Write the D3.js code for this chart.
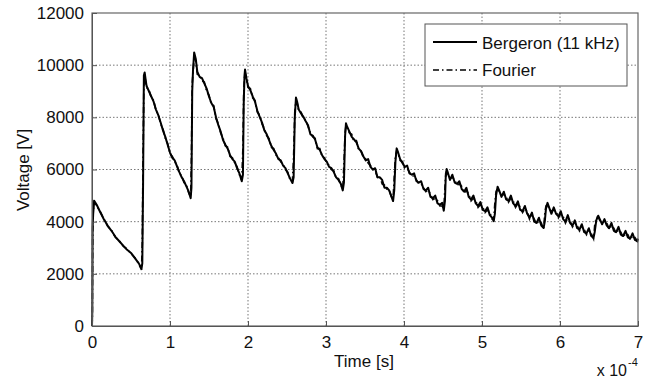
<!DOCTYPE html>
<html lang="en">
<head>
<meta charset="utf-8">
<title>Voltage vs time</title>
<script src="https://cdnjs.cloudflare.com/ajax/libs/d3/7.8.5/d3.min.js"></script>
<style>
  body { margin: 0; background: #fff; }
  svg text { font-family: "Liberation Sans", Arial, sans-serif; fill: #111; }
</style>
</head>
<body>
<script>
// time in units of 1e-4 s
var time = [
  0, 0.004, 0.008, 0.015, 0.028, 0.06, 0.10, 0.15, 0.20, 0.25, 0.30, 0.35, 0.40, 0.45, 0.50, 0.55, 0.60, 0.635, 0.645, 0.655, 0.665, 0.675, 0.69,
  0.70, 0.73, 0.76, 0.79, 0.82, 0.85, 0.88, 0.91, 0.94, 0.97, 1.00, 1.03, 1.06, 1.09, 1.12, 1.15, 1.18, 1.21, 1.24, 1.265, 1.275, 1.285, 1.295, 1.31, 1.33,
  1.35, 1.38, 1.41, 1.44, 1.47, 1.50, 1.53, 1.56, 1.59, 1.62, 1.65, 1.68, 1.71, 1.74, 1.77, 1.80, 1.83, 1.86, 1.89, 1.92, 1.935, 1.945, 1.955, 1.962, 1.98,
  2.00, 2.03, 2.06, 2.09, 2.12, 2.15, 2.18, 2.21, 2.24, 2.27, 2.30, 2.33, 2.36, 2.39, 2.42, 2.45, 2.48, 2.51, 2.54, 2.57, 2.585, 2.60, 2.615, 2.63,
  2.65, 2.68, 2.71, 2.74, 2.77, 2.80, 2.83, 2.86, 2.89, 2.92, 2.95, 2.98, 3.01, 3.04, 3.07, 3.10, 3.13, 3.16, 3.19, 3.215, 3.23, 3.245, 3.256, 3.27,
  3.30, 3.33, 3.36, 3.39, 3.42, 3.45, 3.48, 3.51, 3.54, 3.57, 3.60, 3.63, 3.66, 3.69, 3.72, 3.75, 3.78, 3.81, 3.84, 3.86, 3.875, 3.89, 3.906, 3.92,
  3.95, 3.98, 4.01, 4.04, 4.07, 4.10, 4.13, 4.16, 4.19, 4.22, 4.25, 4.28, 4.31, 4.34, 4.37, 4.40, 4.43, 4.46, 4.49, 4.51, 4.525, 4.535, 4.547, 4.56,
  4.59, 4.62, 4.65, 4.68, 4.71, 4.74, 4.77, 4.80, 4.83, 4.86, 4.89, 4.92, 4.95, 4.98, 5.01, 5.04, 5.07, 5.10, 5.13, 5.15, 5.165, 5.18, 5.20, 5.22,
  5.25, 5.28, 5.31, 5.34, 5.37, 5.40, 5.43, 5.46, 5.49, 5.52, 5.55, 5.58, 5.61, 5.64, 5.67, 5.70, 5.73, 5.76, 5.79, 5.805, 5.82, 5.84, 5.86,
  5.89, 5.92, 5.95, 5.98, 6.01, 6.04, 6.07, 6.10, 6.13, 6.16, 6.19, 6.22, 6.25, 6.28, 6.31, 6.34, 6.37, 6.40, 6.43, 6.445, 6.465, 6.49, 6.51,
  6.54, 6.57, 6.60, 6.63, 6.66, 6.69, 6.72, 6.75, 6.78, 6.81, 6.84, 6.87, 6.90, 6.93, 6.96, 6.99, 7.00
];

var bergeron = [
  0, 600, 3800, 4300, 4800, 4650, 4400, 4100, 3850, 3650, 3420, 3250, 3080, 2920, 2800, 2600, 2400, 2200, 2400, 5500, 9600, 9720, 9400,
  9200, 9000, 8800, 8600, 8300, 8080, 7800, 7500, 7250, 6950, 6650, 6450, 6350, 6120, 5900, 5700, 5550, 5350, 5150, 4900, 5300, 9000, 9800, 10490, 10250,
  9750, 9550, 9500, 9300, 9100, 8800, 8550, 8400, 8000, 7700, 7450, 7130, 6950, 6800, 6550, 6400, 6300, 6050, 5850, 5550, 5800, 8500, 9600, 9830, 9500,
  9200, 9040, 8800, 8600, 8250, 8020, 7800, 7500, 7350, 7130, 6900, 6750, 6600, 6400, 6350, 6150, 6050, 5850, 5650, 5480, 5700, 8000, 8760, 8600,
  8300, 8150, 8020, 7850, 7700, 7350, 7300, 7150, 6850, 6750, 6550, 6400, 6300, 6100, 6050, 5900, 5700, 5600, 5450, 5200, 5500, 7300, 7770, 7650,
  7450, 7250, 7150, 7050, 6800, 6700, 6500, 6350, 6400, 6100, 6000, 6050, 5700, 5700, 5600, 5300, 5300, 5200, 4950, 4790, 5200, 6300, 6810, 6700,
  6400, 6250, 6100, 6150, 5850, 5800, 5850, 5550, 5500, 5550, 5250, 5200, 5300, 4950, 4900, 5000, 4700, 4650, 4720, 4420, 4800, 5700, 6015, 5900,
  5600, 5800, 5500, 5450, 5550, 5250, 5150, 5300, 4950, 4850, 5000, 4700, 4600, 4750, 4450, 4400, 4550, 4250, 4150, 4020, 4300, 5000, 5340, 5200,
  4950, 5150, 4850, 4800, 5000, 4700, 4600, 4780, 4450, 4400, 4600, 4300, 4150, 4350, 4000, 3950, 4150, 3850, 3760, 4000, 4500, 4720, 4550,
  4300, 4550, 4300, 4200, 4400, 4100, 4000, 4250, 3950, 3850, 4050, 3750, 3700, 3900, 3600, 3550, 3750, 3450, 3380, 3600, 4050, 4230, 4100,
  3900, 4100, 3850, 3750, 3950, 3650, 3600, 3800, 3500, 3450, 3650, 3400, 3350, 3550, 3300, 3250, 3350
];

var fourier = [
  0, 300, 3500, 4400, 4750, 4600, 4420, 4120, 3830, 3670, 3400, 3270, 3060, 2950, 2780, 2620, 2380, 2150, 3200, 6500, 9200, 9600, 9300,
  9150, 9050, 8750, 8650, 8250, 8120, 7750, 7550, 7200, 7000, 6600, 6500, 6300, 6170, 5850, 5750, 5500, 5400, 5100, 4950, 6500, 9300, 9700, 10350, 10150,
  9650, 9600, 9400, 9350, 9000, 8850, 8500, 8450, 7950, 7750, 7400, 7200, 6900, 6850, 6500, 6450, 6250, 6100, 5800, 5600, 6800, 8900, 9500, 9700, 9450,
  9150, 9100, 8750, 8650, 8200, 8080, 7750, 7550, 7300, 7180, 6850, 6800, 6550, 6450, 6300, 6200, 6000, 5900, 5600, 5550, 6500, 8200, 8650, 8550,
  8250, 8200, 7950, 7900, 7650, 7400, 7250, 7200, 6800, 6800, 6500, 6450, 6250, 6150, 6000, 5950, 5650, 5650, 5400, 5280, 6200, 7400, 7680, 7600,
  7400, 7350, 7050, 7100, 6750, 6700, 6450, 6400, 6250, 6150, 6000, 5950, 5700, 5750, 5450, 5400, 5250, 5200, 4950, 4850, 5700, 6500, 6720, 6650,
  6350, 6300, 6050, 6050, 5900, 5750, 5750, 5600, 5450, 5450, 5300, 5150, 5200, 5050, 4850, 4900, 4800, 4600, 4600, 4480, 5300, 5850, 5950, 5850,
  5650, 5700, 5600, 5400, 5450, 5350, 5100, 5200, 5050, 4800, 4900, 4800, 4550, 4650, 4550, 4350, 4450, 4350, 4100, 4080, 4700, 5150, 5280, 5150,
  5000, 5050, 4950, 4750, 4900, 4800, 4550, 4700, 4550, 4350, 4500, 4400, 4100, 4250, 4100, 3900, 4050, 3950, 3720, 4300, 4600, 4680, 4500,
  4400, 4450, 4400, 4150, 4300, 4200, 3950, 4150, 4050, 3800, 3950, 3850, 3650, 3800, 3700, 3500, 3650, 3550, 3350, 3850, 4150, 4180, 4050,
  4000, 4000, 3950, 3700, 3850, 3750, 3550, 3700, 3600, 3400, 3550, 3500, 3300, 3450, 3400, 3250, 3300
];

var xTicks = [0, 1, 2, 3, 4, 5, 6, 7];
var yTicks = [0, 2000, 4000, 6000, 8000, 10000, 12000];
var seriesNames = ["Bergeron (11 kHz)", "Fourier"];

var W = 653, H = 381;
var plotL = 92, plotR = 638, plotT = 13, plotB = 326;

var svg = d3.select("body").append("svg")
    .attr("width", W)
    .attr("height", H);

var x = d3.scaleLinear().domain([0, 7]).range([plotL, plotR]);
var y = d3.scaleLinear().domain([0, 12000]).range([plotB, plotT]);

// grid
svg.append("g")
    .selectAll("line")
    .data(xTicks.slice(1, -1))
    .enter().append("line")
    .attr("x1", d => x(d)).attr("x2", d => x(d))
    .attr("y1", plotT).attr("y2", plotB)
    .attr("stroke", "#777").attr("stroke-width", 1)
    .attr("stroke-dasharray", "1.5,2");

svg.append("g")
    .selectAll("line")
    .data(yTicks.slice(1, -1))
    .enter().append("line")
    .attr("x1", plotL).attr("x2", plotR)
    .attr("y1", d => y(d)).attr("y2", d => y(d))
    .attr("stroke", "#777").attr("stroke-width", 1)
    .attr("stroke-dasharray", "1.5,2");

// data
var rowsB = d3.zip(time, bergeron);
var rowsF = d3.zip(time, fourier);
var line = d3.line().x(d => x(d[0])).y(d => y(d[1]));

svg.append("path")
    .attr("d", line(rowsF))
    .attr("fill", "none")
    .attr("stroke", "#111")
    .attr("stroke-width", 1.7)
    .attr("stroke-dasharray", "6,3,1.5,3");

svg.append("path")
    .attr("d", line(rowsB))
    .attr("fill", "none")
    .attr("stroke", "#000")
    .attr("stroke-width", 2)
    .attr("stroke-linejoin", "round");

// box
svg.append("rect")
    .attr("x", plotL).attr("y", plotT)
    .attr("width", plotR - plotL).attr("height", plotB - plotT)
    .attr("fill", "none").attr("stroke", "#666").attr("stroke-width", 1.2);

// axes
var xAxis = d3.axisBottom(x).tickValues(xTicks).tickFormat(d3.format("d"))
    .tickSizeInner(-5).tickSizeOuter(0).tickPadding(10);
var yAxis = d3.axisLeft(y).tickValues(yTicks).tickFormat(d3.format("d"))
    .tickSizeInner(-5).tickSizeOuter(0).tickPadding(8);

var gx = svg.append("g").attr("transform", "translate(0," + plotB + ")").call(xAxis);
var gy = svg.append("g").attr("transform", "translate(" + plotL + ",0)").call(yAxis);
[gx, gy].forEach(function(g){
    g.select(".domain").attr("stroke", "#555");
    g.selectAll(".tick line").attr("stroke", "#555");
    g.selectAll(".tick text").attr("font-size", 17).attr("fill", "#111")
        .attr("font-family", "'Liberation Sans', Arial, sans-serif");
});

// titles
svg.append("text")
    .attr("x", 364).attr("y", 367)
    .attr("text-anchor", "middle")
    .attr("font-size", 17)
    .text("Time [s]");

svg.append("text")
    .attr("transform", "translate(29,170) rotate(-90)")
    .attr("text-anchor", "middle")
    .attr("font-size", 17)
    .text("Voltage [V]");

svg.append("text").attr("x", 627).attr("y", 376).attr("text-anchor", "end")
    .attr("font-size", 16).text("x 10");
svg.append("text").attr("x", 628).attr("y", 366).attr("font-size", 11).text("-4");

// legend
var lg = svg.append("g");
lg.append("rect")
    .attr("x", 425).attr("y", 24)
    .attr("width", 202).attr("height", 62)
    .attr("fill", "#fff").attr("stroke", "#555").attr("stroke-width", 1);

var legendRows = [
    { name: seriesNames[0], dash: null, w: 2, ly: 42, ty: 49 },
    { name: seriesNames[1], dash: "6,3,1.5,3", w: 1.7, ly: 70, ty: 76 }
];
legendRows.forEach(function(r){
    lg.append("line")
        .attr("x1", 433).attr("x2", 477)
        .attr("y1", r.ly).attr("y2", r.ly)
        .attr("stroke", "#000").attr("stroke-width", r.w)
        .attr("stroke-dasharray", r.dash);
    lg.append("text")
        .attr("x", 482).attr("y", r.ty)
        .attr("font-size", 17)
        .text(r.name);
});
</script>
</body>
</html>
